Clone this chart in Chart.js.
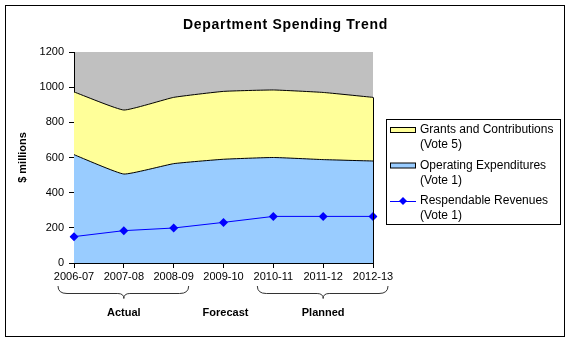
<!DOCTYPE html>
<html>
<head>
<meta charset="UTF-8">
<title>Department Spending Trend</title>
<script src="https://cdn.jsdelivr.net/npm/chart.js"></script>
<style>
    html, body {
        margin: 0;
        padding: 0;
        background: #fff;
    }
    #spendingChart {
        display: block;
    }
</style>
</head>
<body>
<canvas id="spendingChart" width="571" height="343"></canvas>
<script>
    // Valores ($ millions)
    var years = ['2006-07', '2007-08', '2008-09', '2009-10', '2010-11', '2011-12', '2012-13'];
    var operatingExp = [616, 506, 565, 590, 600, 588, 580];
    var grantsContrib = [357, 364, 377, 386, 384, 382, 362];
    var respendableRev = [150, 184, 199, 231, 265, 265, 265];

    var yTicks = [0, 200, 400, 600, 800, 1000, 1200];
    var periodNames = ['Actual', 'Forecast', 'Planned'];
    var periodRanges = [[0, 2], [3, 3], [4, 6]];

    var FONT = '"Liberation Sans", Arial, sans-serif';

    // Fundo, moldura, título, legenda e chaves
    var decorPlugin = {
        id: 'decor',
        beforeDraw: function(chart) {
            var ctx = chart.ctx, a = chart.chartArea;
            ctx.save();
            ctx.fillStyle = '#fff';
            ctx.fillRect(0, 0, chart.width, chart.height);
            ctx.strokeStyle = '#000';
            ctx.lineWidth = 1;
            ctx.strokeRect(5.5, 5.5, 559, 331);
            ctx.fillStyle = '#C0C0C0';
            ctx.fillRect(a.left, a.top, a.right - a.left, a.bottom - a.top);
            ctx.restore();
        },
        afterDraw: function(chart) {
            var ctx = chart.ctx;
            var ds = chart.data.datasets;
            ctx.save();

            // título
            ctx.fillStyle = '#000';
            ctx.font = 'bold 14px ' + FONT;
            ctx.textAlign = 'center';
            ctx.textBaseline = 'middle';
            ctx.letterSpacing = '0.7px';
            ctx.fillText('Department Spending Trend', 285.5, 25);
            ctx.letterSpacing = '0px';

            // legenda
            ctx.strokeStyle = '#000';
            ctx.lineWidth = 1;
            ctx.strokeRect(386.5, 119.5, 174, 105);
            var items = [
                { ds: ds[2], y: 130, lines: ['Grants and Contributions', '(Vote 5)'], kind: 'area' },
                { ds: ds[1], y: 165.5, lines: ['Operating Expenditures', '(Vote 1)'], kind: 'area' },
                { ds: ds[0], y: 201, lines: ['Respendable Revenues', '(Vote 1)'], kind: 'line' }
            ];
            ctx.font = '12px ' + FONT;
            ctx.textAlign = 'left';
            items.forEach(function(it) {
                if (it.kind === 'area') {
                    ctx.fillStyle = it.ds.backgroundColor;
                    ctx.fillRect(390, it.y - 2.5, 26, 5);
                    ctx.strokeStyle = '#000';
                    ctx.strokeRect(390.5, it.y - 2.5, 25, 5);
                } else {
                    ctx.strokeStyle = it.ds.borderColor;
                    ctx.beginPath();
                    ctx.moveTo(390, it.y + 0.5);
                    ctx.lineTo(416, it.y + 0.5);
                    ctx.stroke();
                    ctx.fillStyle = it.ds.pointBackgroundColor;
                    ctx.beginPath();
                    ctx.moveTo(403, it.y - 4);
                    ctx.lineTo(407, it.y);
                    ctx.lineTo(403, it.y + 4);
                    ctx.lineTo(399, it.y);
                    ctx.closePath();
                    ctx.fill();
                }
                ctx.fillStyle = '#000';
                ctx.fillText(it.lines[0], 420, it.y);
                ctx.fillText(it.lines[1], 420, it.y + 15);
            });

            // linha vertical no fim das áreas (como no Excel)
            var x = chart.scales.x, y = chart.scales.y;
            var last = years.length - 1;
            var xr = Math.round(x.getPixelForValue(last)) + 0.5;
            ctx.strokeStyle = '#000';
            ctx.beginPath();
            ctx.moveTo(xr, y.getPixelForValue(operatingExp[last] + grantsContrib[last]));
            ctx.lineTo(xr, y.getPixelForValue(0));
            ctx.stroke();

            // chaves e nomes dos períodos
            ctx.strokeStyle = '#333';
            ctx.font = 'bold 11px ' + FONT;
            ctx.textAlign = 'center';
            periodRanges.forEach(function(r, i) {
                var x1 = x.getPixelForValue(r[0]);
                var x2 = x.getPixelForValue(r[1]);
                var xm = (x1 + x2) / 2;
                if (r[1] > r[0]) {
                    var l = x1 - 16, rt = x2 + 15;
                    var y0 = 286, y1 = 293.5, y2 = 298.5;
                    ctx.beginPath();
                    ctx.moveTo(l, y0);
                    ctx.quadraticCurveTo(l, y1, l + 9, y1);
                    ctx.lineTo(xm - 6, y1);
                    ctx.quadraticCurveTo(xm, y1, xm, y2);
                    ctx.quadraticCurveTo(xm, y1, xm + 6, y1);
                    ctx.lineTo(rt - 9, y1);
                    ctx.quadraticCurveTo(rt, y1, rt, y0);
                    ctx.stroke();
                }
                ctx.fillStyle = '#000';
                ctx.fillText(periodNames[i], i === 1 ? xm + 2 : xm, 313);
            });
            ctx.restore();
        }
    };

    var ctx = document.getElementById('spendingChart').getContext('2d');
    var chart = new Chart(ctx, {
        type: 'line',
        data: {
            labels: years,
            datasets: [
                {
                    label: 'Respendable Revenues (Vote 1)',
                    data: respendableRev,
                    stack: 'rev',
                    borderColor: '#0000FF',
                    borderWidth: 1,
                    pointStyle: 'rectRot',
                    pointRadius: 4.5,
                    pointBackgroundColor: '#0000FF',
                    pointBorderColor: '#0000FF',
                    pointBorderWidth: 0,
                    fill: false,
                    tension: 0
                },
                {
                    label: 'Operating Expenditures (Vote 1)',
                    data: operatingExp,
                    stack: 'spend',
                    backgroundColor: '#99CCFF',
                    borderColor: '#000',
                    borderWidth: 1,
                    pointRadius: 0,
                    fill: 'origin',
                    tension: 0.12
                },
                {
                    label: 'Grants and Contributions (Vote 5)',
                    data: grantsContrib,
                    stack: 'spend',
                    backgroundColor: '#FFFF99',
                    borderColor: '#000',
                    borderWidth: 1,
                    pointRadius: 0,
                    fill: '-1',
                    tension: 0.12
                }
            ]
        },
        options: {
            responsive: false,
            animation: false,
            devicePixelRatio: 1,
            layout: {
                padding: { top: 52, right: 198, bottom: 0, left: 0 }
            },
            plugins: {
                legend: { display: false },
                title: { display: false },
                tooltip: { enabled: false }
            },
            scales: {
                x: {
                    offset: false,
                    afterFit: function(scale) { scale.height = 80; },
                    grid: {
                        drawOnChartArea: false,
                        drawTicks: true,
                        tickLength: 5,
                        color: '#000'
                    },
                    border: { display: true, color: '#000' },
                    ticks: {
                        color: '#000',
                        padding: 2,
                        maxRotation: 0,
                        autoSkip: false,
                        font: { family: FONT, size: 11 }
                    }
                },
                y: {
                    stacked: true,
                    min: 0,
                    max: 1200,
                    afterFit: function(scale) { scale.width = 74; },
                    afterBuildTicks: function(scale) {
                        scale.ticks = yTicks.map(function(v) { return { value: v }; });
                    },
                    grid: {
                        drawOnChartArea: false,
                        drawTicks: true,
                        tickLength: 5,
                        color: '#000'
                    },
                    border: { display: true, color: '#000' },
                    ticks: {
                        color: '#000',
                        padding: 5,
                        font: { family: FONT, size: 11 },
                        callback: function(value) { return String(value); }
                    },
                    title: {
                        display: true,
                        text: '$ millions',
                        color: '#000',
                        padding: { top: 16, bottom: 0 },
                        font: { family: FONT, size: 11, weight: 'bold' }
                    }
                }
            }
        },
        plugins: [decorPlugin]
    });
</script>
</body>
</html>
